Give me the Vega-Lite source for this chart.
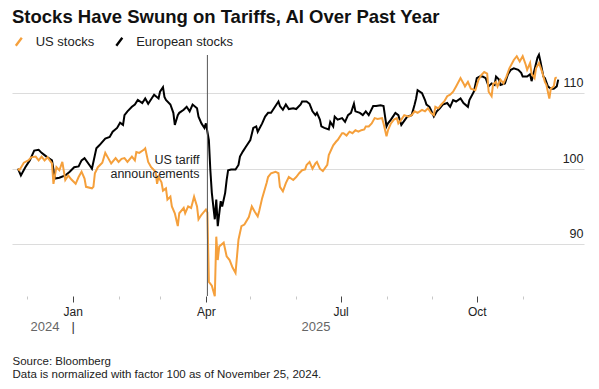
{
  "$schema": "https://vega.github.io/schema/vega-lite/v6.json",
  "width": 572,
  "height": 241,
  "autosize": {"type": "none"},
  "padding": {"left": 12, "top": 55, "right": 15, "bottom": 93},
  "background": "white",
  "title": {
    "text": "Stocks Have Swung on Tariffs, AI Over Past Year",
    "anchor": "start",
    "frame": "group",
    "font": "Liberation Sans",
    "fontSize": 18.5,
    "fontWeight": "bold",
    "color": "#111111",
    "baseline": "alphabetic",
    "offset": 12,
    "dy": 19
  },
  "config": {
    "view": {"stroke": null},
    "font": "Liberation Sans",
    "axis": {"labelFont": "Liberation Sans", "titleFont": "Liberation Sans"},
    "legend": {"labelFont": "Liberation Sans"}
  },
  "datasets": {
    "stocks": [
      {"date": "2024-11-25", "series": "European stocks", "value": 100},
      {"date": "2024-11-27", "series": "European stocks", "value": 99.1},
      {"date": "2024-11-30", "series": "European stocks", "value": 100.2},
      {"date": "2024-12-03", "series": "European stocks", "value": 101.1},
      {"date": "2024-12-06", "series": "European stocks", "value": 102.4},
      {"date": "2024-12-09", "series": "European stocks", "value": 102.5},
      {"date": "2024-12-11", "series": "European stocks", "value": 102.1},
      {"date": "2024-12-13", "series": "European stocks", "value": 101.8},
      {"date": "2024-12-15", "series": "European stocks", "value": 101.5},
      {"date": "2024-12-18", "series": "European stocks", "value": 101.1},
      {"date": "2024-12-20", "series": "European stocks", "value": 98.7},
      {"date": "2024-12-23", "series": "European stocks", "value": 98.8},
      {"date": "2024-12-27", "series": "European stocks", "value": 99.1},
      {"date": "2024-12-30", "series": "European stocks", "value": 99.6},
      {"date": "2025-01-02", "series": "European stocks", "value": 100.2},
      {"date": "2025-01-05", "series": "European stocks", "value": 100.3},
      {"date": "2025-01-07", "series": "European stocks", "value": 101.1},
      {"date": "2025-01-09", "series": "European stocks", "value": 101.4},
      {"date": "2025-01-13", "series": "European stocks", "value": 100.3},
      {"date": "2025-01-14", "series": "European stocks", "value": 100.0},
      {"date": "2025-01-17", "series": "European stocks", "value": 102.7},
      {"date": "2025-01-19", "series": "European stocks", "value": 103.1},
      {"date": "2025-01-23", "series": "European stocks", "value": 104.0},
      {"date": "2025-01-26", "series": "European stocks", "value": 104.2},
      {"date": "2025-01-28", "series": "European stocks", "value": 104.9},
      {"date": "2025-01-31", "series": "European stocks", "value": 105.4},
      {"date": "2025-02-02", "series": "European stocks", "value": 106.1},
      {"date": "2025-02-04", "series": "European stocks", "value": 105.8},
      {"date": "2025-02-05", "series": "European stocks", "value": 107.1},
      {"date": "2025-02-07", "series": "European stocks", "value": 107.6},
      {"date": "2025-02-10", "series": "European stocks", "value": 108.2},
      {"date": "2025-02-12", "series": "European stocks", "value": 108.5},
      {"date": "2025-02-14", "series": "European stocks", "value": 109.1},
      {"date": "2025-02-17", "series": "European stocks", "value": 108.7},
      {"date": "2025-02-19", "series": "European stocks", "value": 109.3},
      {"date": "2025-02-21", "series": "European stocks", "value": 108.6},
      {"date": "2025-02-23", "series": "European stocks", "value": 109.2},
      {"date": "2025-02-25", "series": "European stocks", "value": 109.8},
      {"date": "2025-02-28", "series": "European stocks", "value": 109.3},
      {"date": "2025-03-01", "series": "European stocks", "value": 110.2},
      {"date": "2025-03-03", "series": "European stocks", "value": 110.8},
      {"date": "2025-03-04", "series": "European stocks", "value": 109.5},
      {"date": "2025-03-05", "series": "European stocks", "value": 109.1},
      {"date": "2025-03-08", "series": "European stocks", "value": 108.5},
      {"date": "2025-03-10", "series": "European stocks", "value": 107.4},
      {"date": "2025-03-11", "series": "European stocks", "value": 105.8},
      {"date": "2025-03-13", "series": "European stocks", "value": 107.1},
      {"date": "2025-03-14", "series": "European stocks", "value": 107.4},
      {"date": "2025-03-17", "series": "European stocks", "value": 107.8},
      {"date": "2025-03-19", "series": "European stocks", "value": 108.2},
      {"date": "2025-03-21", "series": "European stocks", "value": 107.6},
      {"date": "2025-03-23", "series": "European stocks", "value": 108.5},
      {"date": "2025-03-26", "series": "European stocks", "value": 108.0},
      {"date": "2025-03-27", "series": "European stocks", "value": 106.9},
      {"date": "2025-03-29", "series": "European stocks", "value": 106.0},
      {"date": "2025-03-31", "series": "European stocks", "value": 105.4},
      {"date": "2025-04-01", "series": "European stocks", "value": 106.0},
      {"date": "2025-04-03", "series": "European stocks", "value": 103.8},
      {"date": "2025-04-04", "series": "European stocks", "value": 99.8},
      {"date": "2025-04-05", "series": "European stocks", "value": 96.8},
      {"date": "2025-04-06", "series": "European stocks", "value": 95.0},
      {"date": "2025-04-07", "series": "European stocks", "value": 93.3},
      {"date": "2025-04-08", "series": "European stocks", "value": 95.9},
      {"date": "2025-04-09", "series": "European stocks", "value": 92.4},
      {"date": "2025-04-11", "series": "European stocks", "value": 95.7},
      {"date": "2025-04-12", "series": "European stocks", "value": 95.0},
      {"date": "2025-04-14", "series": "European stocks", "value": 96.8},
      {"date": "2025-04-15", "series": "European stocks", "value": 98.5},
      {"date": "2025-04-16", "series": "European stocks", "value": 99.8},
      {"date": "2025-04-18", "series": "European stocks", "value": 99.9},
      {"date": "2025-04-21", "series": "European stocks", "value": 99.9},
      {"date": "2025-04-23", "series": "European stocks", "value": 100.5},
      {"date": "2025-04-24", "series": "European stocks", "value": 101.6},
      {"date": "2025-04-26", "series": "European stocks", "value": 102.3},
      {"date": "2025-04-28", "series": "European stocks", "value": 102.9},
      {"date": "2025-05-01", "series": "European stocks", "value": 103.8},
      {"date": "2025-05-03", "series": "European stocks", "value": 105.4},
      {"date": "2025-05-05", "series": "European stocks", "value": 105.6},
      {"date": "2025-05-06", "series": "European stocks", "value": 104.9},
      {"date": "2025-05-09", "series": "European stocks", "value": 106.0},
      {"date": "2025-05-11", "series": "European stocks", "value": 106.9},
      {"date": "2025-05-13", "series": "European stocks", "value": 107.4},
      {"date": "2025-05-15", "series": "European stocks", "value": 107.4},
      {"date": "2025-05-18", "series": "European stocks", "value": 108.3},
      {"date": "2025-05-20", "series": "European stocks", "value": 108.9},
      {"date": "2025-05-21", "series": "European stocks", "value": 108.3},
      {"date": "2025-05-23", "series": "European stocks", "value": 107.8},
      {"date": "2025-05-25", "series": "European stocks", "value": 108.5},
      {"date": "2025-05-27", "series": "European stocks", "value": 107.9},
      {"date": "2025-05-30", "series": "European stocks", "value": 108.0},
      {"date": "2025-06-01", "series": "European stocks", "value": 107.9},
      {"date": "2025-06-04", "series": "European stocks", "value": 108.5},
      {"date": "2025-06-05", "series": "European stocks", "value": 108.9},
      {"date": "2025-06-08", "series": "European stocks", "value": 108.9},
      {"date": "2025-06-10", "series": "European stocks", "value": 108.6},
      {"date": "2025-06-12", "series": "European stocks", "value": 107.6},
      {"date": "2025-06-14", "series": "European stocks", "value": 107.1},
      {"date": "2025-06-15", "series": "European stocks", "value": 107.4},
      {"date": "2025-06-17", "series": "European stocks", "value": 106.5},
      {"date": "2025-06-18", "series": "European stocks", "value": 105.6},
      {"date": "2025-06-20", "series": "European stocks", "value": 105.4},
      {"date": "2025-06-23", "series": "European stocks", "value": 105.2},
      {"date": "2025-06-24", "series": "European stocks", "value": 106.2},
      {"date": "2025-06-26", "series": "European stocks", "value": 105.6},
      {"date": "2025-06-27", "series": "European stocks", "value": 106.9},
      {"date": "2025-06-29", "series": "European stocks", "value": 106.5},
      {"date": "2025-07-02", "series": "European stocks", "value": 106.7},
      {"date": "2025-07-04", "series": "European stocks", "value": 106.2},
      {"date": "2025-07-06", "series": "European stocks", "value": 107.1},
      {"date": "2025-07-08", "series": "European stocks", "value": 107.4},
      {"date": "2025-07-10", "series": "European stocks", "value": 108.6},
      {"date": "2025-07-11", "series": "European stocks", "value": 107.6},
      {"date": "2025-07-14", "series": "European stocks", "value": 107.4},
      {"date": "2025-07-16", "series": "European stocks", "value": 107.1},
      {"date": "2025-07-18", "series": "European stocks", "value": 107.6},
      {"date": "2025-07-20", "series": "European stocks", "value": 107.1},
      {"date": "2025-07-23", "series": "European stocks", "value": 108.3},
      {"date": "2025-07-25", "series": "European stocks", "value": 108.3},
      {"date": "2025-07-28", "series": "European stocks", "value": 108.4},
      {"date": "2025-07-30", "series": "European stocks", "value": 108.3},
      {"date": "2025-08-01", "series": "European stocks", "value": 105.6},
      {"date": "2025-08-02", "series": "European stocks", "value": 106.0},
      {"date": "2025-08-04", "series": "European stocks", "value": 106.5},
      {"date": "2025-08-07", "series": "European stocks", "value": 107.4},
      {"date": "2025-08-09", "series": "European stocks", "value": 107.1},
      {"date": "2025-08-11", "series": "European stocks", "value": 105.8},
      {"date": "2025-08-15", "series": "European stocks", "value": 106.9},
      {"date": "2025-08-18", "series": "European stocks", "value": 107.1},
      {"date": "2025-08-20", "series": "European stocks", "value": 108.5},
      {"date": "2025-08-21", "series": "European stocks", "value": 109.3},
      {"date": "2025-08-22", "series": "European stocks", "value": 110.4},
      {"date": "2025-08-25", "series": "European stocks", "value": 110.0},
      {"date": "2025-08-27", "series": "European stocks", "value": 109.1},
      {"date": "2025-08-28", "series": "European stocks", "value": 108.5},
      {"date": "2025-08-30", "series": "European stocks", "value": 108.2},
      {"date": "2025-08-31", "series": "European stocks", "value": 107.8},
      {"date": "2025-09-02", "series": "European stocks", "value": 106.9},
      {"date": "2025-09-04", "series": "European stocks", "value": 107.6},
      {"date": "2025-09-06", "series": "European stocks", "value": 108.0},
      {"date": "2025-09-08", "series": "European stocks", "value": 108.5},
      {"date": "2025-09-11", "series": "European stocks", "value": 108.7},
      {"date": "2025-09-13", "series": "European stocks", "value": 108.2},
      {"date": "2025-09-15", "series": "European stocks", "value": 109.1},
      {"date": "2025-09-17", "series": "European stocks", "value": 108.9},
      {"date": "2025-09-20", "series": "European stocks", "value": 109.3},
      {"date": "2025-09-22", "series": "European stocks", "value": 108.7},
      {"date": "2025-09-25", "series": "European stocks", "value": 108.2},
      {"date": "2025-09-26", "series": "European stocks", "value": 109.1},
      {"date": "2025-09-29", "series": "European stocks", "value": 110.2},
      {"date": "2025-10-01", "series": "European stocks", "value": 112.0},
      {"date": "2025-10-03", "series": "European stocks", "value": 112.2},
      {"date": "2025-10-05", "series": "European stocks", "value": 112.2},
      {"date": "2025-10-07", "series": "European stocks", "value": 112.0},
      {"date": "2025-10-09", "series": "European stocks", "value": 110.9},
      {"date": "2025-10-11", "series": "European stocks", "value": 111.3},
      {"date": "2025-10-13", "series": "European stocks", "value": 111.1},
      {"date": "2025-10-14", "series": "European stocks", "value": 112.2},
      {"date": "2025-10-16", "series": "European stocks", "value": 111.8},
      {"date": "2025-10-17", "series": "European stocks", "value": 111.1},
      {"date": "2025-10-20", "series": "European stocks", "value": 111.3},
      {"date": "2025-10-22", "series": "European stocks", "value": 112.5},
      {"date": "2025-10-24", "series": "European stocks", "value": 113.1},
      {"date": "2025-10-26", "series": "European stocks", "value": 113.3},
      {"date": "2025-10-29", "series": "European stocks", "value": 113.1},
      {"date": "2025-10-31", "series": "European stocks", "value": 112.7},
      {"date": "2025-11-01", "series": "European stocks", "value": 112.2},
      {"date": "2025-11-04", "series": "European stocks", "value": 112.2},
      {"date": "2025-11-06", "series": "European stocks", "value": 112.5},
      {"date": "2025-11-07", "series": "European stocks", "value": 111.6},
      {"date": "2025-11-09", "series": "European stocks", "value": 113.1},
      {"date": "2025-11-11", "series": "European stocks", "value": 114.7},
      {"date": "2025-11-12", "series": "European stocks", "value": 115.1},
      {"date": "2025-11-13", "series": "European stocks", "value": 114.2},
      {"date": "2025-11-15", "series": "European stocks", "value": 112.2},
      {"date": "2025-11-16", "series": "European stocks", "value": 112.0},
      {"date": "2025-11-18", "series": "European stocks", "value": 110.9},
      {"date": "2025-11-20", "series": "European stocks", "value": 110.6},
      {"date": "2025-11-22", "series": "European stocks", "value": 110.6},
      {"date": "2025-11-24", "series": "European stocks", "value": 110.9},
      {"date": "2025-11-25", "series": "European stocks", "value": 111.8},
      {"date": "2024-11-25", "series": "US stocks", "value": 100},
      {"date": "2024-11-26", "series": "US stocks", "value": 99.8},
      {"date": "2024-11-29", "series": "US stocks", "value": 100.8},
      {"date": "2024-12-02", "series": "US stocks", "value": 101.1},
      {"date": "2024-12-04", "series": "US stocks", "value": 101.5},
      {"date": "2024-12-07", "series": "US stocks", "value": 101.6},
      {"date": "2024-12-09", "series": "US stocks", "value": 101.1},
      {"date": "2024-12-11", "series": "US stocks", "value": 101.6},
      {"date": "2024-12-13", "series": "US stocks", "value": 101.1},
      {"date": "2024-12-15", "series": "US stocks", "value": 101.5},
      {"date": "2024-12-18", "series": "US stocks", "value": 100.7},
      {"date": "2024-12-19", "series": "US stocks", "value": 98.0},
      {"date": "2024-12-21", "series": "US stocks", "value": 100.2},
      {"date": "2024-12-23", "series": "US stocks", "value": 99.8},
      {"date": "2024-12-25", "series": "US stocks", "value": 100.9},
      {"date": "2024-12-27", "series": "US stocks", "value": 98.5},
      {"date": "2024-12-29", "series": "US stocks", "value": 99.1},
      {"date": "2024-12-31", "series": "US stocks", "value": 98.6},
      {"date": "2025-01-03", "series": "US stocks", "value": 98.0},
      {"date": "2025-01-05", "series": "US stocks", "value": 98.9},
      {"date": "2025-01-07", "series": "US stocks", "value": 99.6},
      {"date": "2025-01-09", "series": "US stocks", "value": 98.7},
      {"date": "2025-01-10", "series": "US stocks", "value": 97.6},
      {"date": "2025-01-14", "series": "US stocks", "value": 97.4},
      {"date": "2025-01-15", "series": "US stocks", "value": 97.6},
      {"date": "2025-01-16", "series": "US stocks", "value": 99.4},
      {"date": "2025-01-18", "series": "US stocks", "value": 100.2},
      {"date": "2025-01-21", "series": "US stocks", "value": 100.8},
      {"date": "2025-01-23", "series": "US stocks", "value": 102.1},
      {"date": "2025-01-25", "series": "US stocks", "value": 101.4},
      {"date": "2025-01-27", "series": "US stocks", "value": 100.7},
      {"date": "2025-01-30", "series": "US stocks", "value": 101.4},
      {"date": "2025-02-01", "series": "US stocks", "value": 100.9},
      {"date": "2025-02-03", "series": "US stocks", "value": 101.3},
      {"date": "2025-02-05", "series": "US stocks", "value": 101.4},
      {"date": "2025-02-07", "series": "US stocks", "value": 100.9},
      {"date": "2025-02-10", "series": "US stocks", "value": 101.6},
      {"date": "2025-02-12", "series": "US stocks", "value": 101.1},
      {"date": "2025-02-13", "series": "US stocks", "value": 102.2},
      {"date": "2025-02-15", "series": "US stocks", "value": 102.1},
      {"date": "2025-02-18", "series": "US stocks", "value": 102.5},
      {"date": "2025-02-19", "series": "US stocks", "value": 102.7},
      {"date": "2025-02-21", "series": "US stocks", "value": 100.9},
      {"date": "2025-02-23", "series": "US stocks", "value": 100.2},
      {"date": "2025-02-26", "series": "US stocks", "value": 99.6},
      {"date": "2025-02-27", "series": "US stocks", "value": 98.0},
      {"date": "2025-02-28", "series": "US stocks", "value": 98.9},
      {"date": "2025-03-02", "series": "US stocks", "value": 98.2},
      {"date": "2025-03-03", "series": "US stocks", "value": 97.1},
      {"date": "2025-03-05", "series": "US stocks", "value": 97.4},
      {"date": "2025-03-06", "series": "US stocks", "value": 95.9},
      {"date": "2025-03-08", "series": "US stocks", "value": 96.3},
      {"date": "2025-03-09", "series": "US stocks", "value": 95.0},
      {"date": "2025-03-11", "series": "US stocks", "value": 94.1},
      {"date": "2025-03-13", "series": "US stocks", "value": 92.4},
      {"date": "2025-03-14", "series": "US stocks", "value": 94.1},
      {"date": "2025-03-17", "series": "US stocks", "value": 94.8},
      {"date": "2025-03-18", "series": "US stocks", "value": 94.1},
      {"date": "2025-03-20", "series": "US stocks", "value": 95.0},
      {"date": "2025-03-22", "series": "US stocks", "value": 94.8},
      {"date": "2025-03-24", "series": "US stocks", "value": 96.3},
      {"date": "2025-03-26", "series": "US stocks", "value": 95.0},
      {"date": "2025-03-27", "series": "US stocks", "value": 93.3},
      {"date": "2025-03-29", "series": "US stocks", "value": 93.9},
      {"date": "2025-04-01", "series": "US stocks", "value": 94.6},
      {"date": "2025-04-02", "series": "US stocks", "value": 94.2},
      {"date": "2025-04-03", "series": "US stocks", "value": 85.0},
      {"date": "2025-04-05", "series": "US stocks", "value": 84.5},
      {"date": "2025-04-07", "series": "US stocks", "value": 83.1},
      {"date": "2025-04-08", "series": "US stocks", "value": 91.0},
      {"date": "2025-04-09", "series": "US stocks", "value": 87.9},
      {"date": "2025-04-10", "series": "US stocks", "value": 89.7},
      {"date": "2025-04-13", "series": "US stocks", "value": 90.2},
      {"date": "2025-04-15", "series": "US stocks", "value": 88.4},
      {"date": "2025-04-17", "series": "US stocks", "value": 87.9},
      {"date": "2025-04-19", "series": "US stocks", "value": 86.9},
      {"date": "2025-04-21", "series": "US stocks", "value": 86.2},
      {"date": "2025-04-23", "series": "US stocks", "value": 90.6},
      {"date": "2025-04-25", "series": "US stocks", "value": 92.4},
      {"date": "2025-04-27", "series": "US stocks", "value": 92.6},
      {"date": "2025-04-30", "series": "US stocks", "value": 93.6},
      {"date": "2025-05-02", "series": "US stocks", "value": 95.0},
      {"date": "2025-05-04", "series": "US stocks", "value": 94.3},
      {"date": "2025-05-06", "series": "US stocks", "value": 93.7},
      {"date": "2025-05-07", "series": "US stocks", "value": 94.4},
      {"date": "2025-05-09", "series": "US stocks", "value": 96.1},
      {"date": "2025-05-12", "series": "US stocks", "value": 98.1},
      {"date": "2025-05-13", "series": "US stocks", "value": 98.9},
      {"date": "2025-05-15", "series": "US stocks", "value": 99.4},
      {"date": "2025-05-18", "series": "US stocks", "value": 99.6},
      {"date": "2025-05-20", "series": "US stocks", "value": 99.4},
      {"date": "2025-05-21", "series": "US stocks", "value": 97.6},
      {"date": "2025-05-23", "series": "US stocks", "value": 97.0},
      {"date": "2025-05-25", "series": "US stocks", "value": 98.1},
      {"date": "2025-05-27", "series": "US stocks", "value": 98.9},
      {"date": "2025-05-30", "series": "US stocks", "value": 98.5},
      {"date": "2025-06-01", "series": "US stocks", "value": 98.9},
      {"date": "2025-06-03", "series": "US stocks", "value": 99.4},
      {"date": "2025-06-05", "series": "US stocks", "value": 99.8},
      {"date": "2025-06-07", "series": "US stocks", "value": 99.9},
      {"date": "2025-06-08", "series": "US stocks", "value": 100.5},
      {"date": "2025-06-10", "series": "US stocks", "value": 100.9},
      {"date": "2025-06-12", "series": "US stocks", "value": 100.0},
      {"date": "2025-06-14", "series": "US stocks", "value": 100.7},
      {"date": "2025-06-15", "series": "US stocks", "value": 100.9},
      {"date": "2025-06-17", "series": "US stocks", "value": 100.0},
      {"date": "2025-06-19", "series": "US stocks", "value": 99.7},
      {"date": "2025-06-22", "series": "US stocks", "value": 100.5},
      {"date": "2025-06-23", "series": "US stocks", "value": 101.8},
      {"date": "2025-06-26", "series": "US stocks", "value": 103.1},
      {"date": "2025-06-28", "series": "US stocks", "value": 103.6},
      {"date": "2025-06-29", "series": "US stocks", "value": 103.8},
      {"date": "2025-07-02", "series": "US stocks", "value": 104.7},
      {"date": "2025-07-03", "series": "US stocks", "value": 104.7},
      {"date": "2025-07-05", "series": "US stocks", "value": 104.4},
      {"date": "2025-07-07", "series": "US stocks", "value": 104.9},
      {"date": "2025-07-09", "series": "US stocks", "value": 104.7},
      {"date": "2025-07-11", "series": "US stocks", "value": 105.1},
      {"date": "2025-07-13", "series": "US stocks", "value": 104.9},
      {"date": "2025-07-15", "series": "US stocks", "value": 105.1},
      {"date": "2025-07-17", "series": "US stocks", "value": 105.2},
      {"date": "2025-07-18", "series": "US stocks", "value": 105.6},
      {"date": "2025-07-20", "series": "US stocks", "value": 105.6},
      {"date": "2025-07-22", "series": "US stocks", "value": 106.0},
      {"date": "2025-07-24", "series": "US stocks", "value": 106.7},
      {"date": "2025-07-26", "series": "US stocks", "value": 106.6},
      {"date": "2025-07-29", "series": "US stocks", "value": 106.7},
      {"date": "2025-07-30", "series": "US stocks", "value": 106.0},
      {"date": "2025-08-01", "series": "US stocks", "value": 104.3},
      {"date": "2025-08-02", "series": "US stocks", "value": 105.1},
      {"date": "2025-08-04", "series": "US stocks", "value": 106.0},
      {"date": "2025-08-06", "series": "US stocks", "value": 106.5},
      {"date": "2025-08-08", "series": "US stocks", "value": 106.7},
      {"date": "2025-08-09", "series": "US stocks", "value": 106.0},
      {"date": "2025-08-11", "series": "US stocks", "value": 106.5},
      {"date": "2025-08-13", "series": "US stocks", "value": 107.1},
      {"date": "2025-08-16", "series": "US stocks", "value": 106.9},
      {"date": "2025-08-18", "series": "US stocks", "value": 107.1},
      {"date": "2025-08-20", "series": "US stocks", "value": 107.6},
      {"date": "2025-08-22", "series": "US stocks", "value": 107.4},
      {"date": "2025-08-25", "series": "US stocks", "value": 107.8},
      {"date": "2025-08-27", "series": "US stocks", "value": 107.6},
      {"date": "2025-08-29", "series": "US stocks", "value": 108.0},
      {"date": "2025-08-31", "series": "US stocks", "value": 107.4},
      {"date": "2025-09-02", "series": "US stocks", "value": 107.1},
      {"date": "2025-09-03", "series": "US stocks", "value": 108.2},
      {"date": "2025-09-05", "series": "US stocks", "value": 108.0},
      {"date": "2025-09-07", "series": "US stocks", "value": 108.5},
      {"date": "2025-09-09", "series": "US stocks", "value": 108.9},
      {"date": "2025-09-11", "series": "US stocks", "value": 109.6},
      {"date": "2025-09-13", "series": "US stocks", "value": 109.8},
      {"date": "2025-09-15", "series": "US stocks", "value": 110.2},
      {"date": "2025-09-17", "series": "US stocks", "value": 110.9},
      {"date": "2025-09-20", "series": "US stocks", "value": 112.0},
      {"date": "2025-09-22", "series": "US stocks", "value": 111.3},
      {"date": "2025-09-23", "series": "US stocks", "value": 110.9},
      {"date": "2025-09-25", "series": "US stocks", "value": 111.5},
      {"date": "2025-09-27", "series": "US stocks", "value": 110.6},
      {"date": "2025-09-30", "series": "US stocks", "value": 110.4},
      {"date": "2025-10-02", "series": "US stocks", "value": 111.7},
      {"date": "2025-10-04", "series": "US stocks", "value": 112.4},
      {"date": "2025-10-06", "series": "US stocks", "value": 112.8},
      {"date": "2025-10-08", "series": "US stocks", "value": 112.6},
      {"date": "2025-10-09", "series": "US stocks", "value": 110.2},
      {"date": "2025-10-11", "series": "US stocks", "value": 109.6},
      {"date": "2025-10-12", "series": "US stocks", "value": 111.2},
      {"date": "2025-10-14", "series": "US stocks", "value": 111.5},
      {"date": "2025-10-15", "series": "US stocks", "value": 110.9},
      {"date": "2025-10-17", "series": "US stocks", "value": 111.8},
      {"date": "2025-10-19", "series": "US stocks", "value": 111.3},
      {"date": "2025-10-21", "series": "US stocks", "value": 112.2},
      {"date": "2025-10-23", "series": "US stocks", "value": 113.3},
      {"date": "2025-10-26", "series": "US stocks", "value": 114.4},
      {"date": "2025-10-28", "series": "US stocks", "value": 114.9},
      {"date": "2025-10-30", "series": "US stocks", "value": 114.2},
      {"date": "2025-11-01", "series": "US stocks", "value": 114.9},
      {"date": "2025-11-03", "series": "US stocks", "value": 113.8},
      {"date": "2025-11-04", "series": "US stocks", "value": 113.1},
      {"date": "2025-11-06", "series": "US stocks", "value": 114.0},
      {"date": "2025-11-07", "series": "US stocks", "value": 112.6},
      {"date": "2025-11-09", "series": "US stocks", "value": 112.0},
      {"date": "2025-11-10", "series": "US stocks", "value": 113.3},
      {"date": "2025-11-12", "series": "US stocks", "value": 114.0},
      {"date": "2025-11-14", "series": "US stocks", "value": 112.9},
      {"date": "2025-11-16", "series": "US stocks", "value": 111.5},
      {"date": "2025-11-17", "series": "US stocks", "value": 111.1},
      {"date": "2025-11-19", "series": "US stocks", "value": 109.3},
      {"date": "2025-11-20", "series": "US stocks", "value": 110.6},
      {"date": "2025-11-22", "series": "US stocks", "value": 110.9},
      {"date": "2025-11-23", "series": "US stocks", "value": 112.0},
      {"date": "2025-11-24", "series": "US stocks", "value": 112.1}
    ],
    "events": [
      {"date": "2025-04-02", "event": "US tariff\nannouncements"}
    ]
  },
  "resolve": {"axis": {"x": "independent"}},
  "layer": [
    {
      "data": {"name": "stocks"},
      "transform": [{"filter": "datum.series == 'European stocks'"}],
      "mark": {"type": "line", "strokeWidth": 2, "interpolate": "linear"},
      "encoding": {
        "x": {
          "field": "date", "type": "temporal",
          "scale": {"domain": [{"year": 2024, "month": 11, "date": 21}, {"year": 2025, "month": 12, "date": 12, "hours": 10}]},
          "axis": {
            "orient": "bottom",
            "title": null,
            "domain": false,
            "grid": false,
            "values": [
              {"year": 2024, "month": 12, "date": 1},
              {"year": 2025, "month": 1, "date": 1},
              {"year": 2025, "month": 2, "date": 1},
              {"year": 2025, "month": 3, "date": 1},
              {"year": 2025, "month": 4, "date": 1},
              {"year": 2025, "month": 5, "date": 1},
              {"year": 2025, "month": 6, "date": 1},
              {"year": 2025, "month": 7, "date": 1},
              {"year": 2025, "month": 8, "date": 1},
              {"year": 2025, "month": 9, "date": 1},
              {"year": 2025, "month": 10, "date": 1},
              {"year": 2025, "month": 11, "date": 1}
            ],
            "labelExpr": "month(datum.value) % 3 == 0 ? timeFormat(datum.value, '%b') : ''",
            "tickSize": {"condition": {"test": "month(datum.value) % 3 == 0", "value": 6}, "value": 3},
            "tickColor": {"condition": {"test": "month(datum.value) % 3 == 0", "value": "#444444"}, "value": "#c8c8c8"},
            "tickWidth": 1,
            "labelFontSize": 12,
            "labelColor": "#222222",
            "labelBaseline": "alphabetic",
            "labelPadding": 13,
            "labelOverlap": false,
            "labelFlush": false
          }
        },
        "y": {
          "field": "value", "type": "quantitative",
          "scale": {"domain": [83.14, 115.06], "nice": false, "zero": false},
          "axis": {
            "orient": "right",
            "title": null,
            "values": [90, 100, 110],
            "domain": false,
            "ticks": false,
            "grid": true,
            "gridColor": "#dcdcdc",
            "gridWidth": 1.2,
            "labelAlign": "right",
            "labelBaseline": "alphabetic",
            "labelPadding": -1,
            "labelOffset": -6.5,
            "labelFontSize": 12.5,
            "labelColor": "#222222"
          }
        },
        "color": {
          "field": "series", "type": "nominal",
          "scale": {"domain": ["US stocks", "European stocks"], "range": ["#f5a03c", "#000000"]},
          "legend": {
            "title": null,
            "orient": "none",
            "direction": "horizontal",
            "legendX": 0.3,
            "legendY": -20.2,
            "padding": 0,
            "symbolType": "M-0.75,1L0.75,-1",
            "symbolSize": 64,
            "symbolStrokeWidth": 2.3,
            "labelFontSize": 13,
            "labelColor": "#222222",
            "labelOffset": 10.4,
            "columnPadding": 16.5
          }
        }
      }
    },
    {
      "data": {"name": "stocks"},
      "transform": [{"filter": "datum.series == 'US stocks'"}],
      "mark": {"type": "line", "strokeWidth": 2, "interpolate": "linear"},
      "encoding": {
        "x": {
          "field": "date", "type": "temporal",
          "scale": {"domain": [{"year": 2024, "month": 11, "date": 21}, {"year": 2025, "month": 12, "date": 12, "hours": 10}]},
          "axis": null
        },
        "y": {"field": "value", "type": "quantitative"},
        "color": {
          "field": "series", "type": "nominal",
          "scale": {"domain": ["US stocks", "European stocks"], "range": ["#f5a03c", "#000000"]}
        }
      }
    },
    {
      "data": {"name": "events"},
      "mark": {"type": "rule", "color": "#555555", "strokeWidth": 1},
      "encoding": {
        "x": {
          "field": "date", "type": "temporal",
          "scale": {"domain": [{"year": 2024, "month": 11, "date": 21}, {"year": 2025, "month": 12, "date": 12, "hours": 10}]},
          "axis": {
            "orient": "bottom",
            "domain": false,
            "ticks": false,
            "grid": false,
            "values": [
              {"year": 2024, "month": 12, "date": 13},
              {"year": 2025, "month": 1, "date": 1},
              {"year": 2025, "month": 6, "date": 14}
            ],
            "labelExpr": "year(datum.value) == 2024 ? '2024' : (month(datum.value) == 0 ? '|' : '2025')",
            "labelFontSize": 13,
            "labelColor": {"condition": {"test": "month(datum.value) == 0", "value": "#333333"}, "value": "#666666"},
            "labelBaseline": "alphabetic",
            "labelPadding": 34,
            "labelOverlap": false,
            "labelFlush": false,
            "title": ["Source: Bloomberg", "Data is normalized with factor 100 as of November 25, 2024."],
            "titleAnchor": "start",
            "titleAlign": "left",
            "titleX": 0,
            "titleY": 68,
            "titleBaseline": "alphabetic",
            "titleFontSize": 11.5,
            "titleFontWeight": "normal",
            "titleColor": "#222222",
            "titleLineHeight": 13
          }
        }
      }
    },
    {
      "data": {"name": "events"},
      "mark": {"type": "text", "align": "right", "baseline": "alphabetic", "dx": -8, "fontSize": 12.5, "color": "#222222", "lineBreak": "\n", "lineHeight": 14},
      "encoding": {
        "x": {
          "field": "date", "type": "temporal",
          "scale": {"domain": [{"year": 2024, "month": 11, "date": 21}, {"year": 2025, "month": 12, "date": 12, "hours": 10}]},
          "axis": null
        },
        "y": {"datum": 100.62, "type": "quantitative"},
        "text": {"field": "event", "type": "nominal"}
      }
    }
  ]
}
